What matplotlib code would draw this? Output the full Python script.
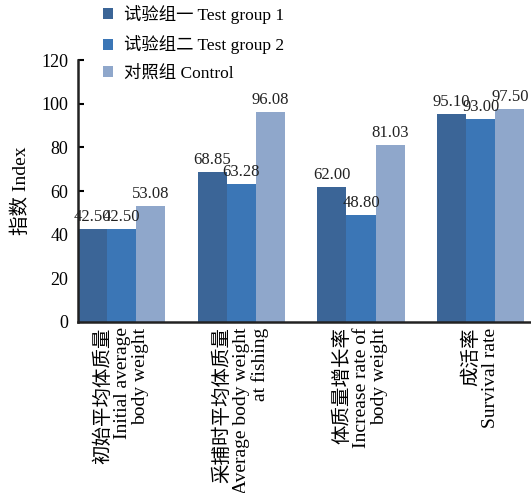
import matplotlib
matplotlib.use("Agg")
import matplotlib.pyplot as plt
import numpy as np

plt.rcParams['font.family'] = ['Liberation Serif', 'Noto Sans CJK SC']

# indices per group
categories = ["初始平均体质量\nInitial average\nbody weight",
              "采捕时平均体质量\nAverage body weight\nat fishing",
              "体质量增长率\nIncrease rate of\nbody weight",
              "成活率\nSurvival rate"]
series_names = ["试验组一 Test group 1", "试验组二 Test group 2", "对照组 Control"]
test1 = [42.50, 68.85, 62.00, 95.10]
test2 = [42.50, 63.28, 48.80, 93.00]
control = [53.08, 96.08, 81.03, 97.50]
yticks = [0, 20, 40, 60, 80, 100, 120]

colors = ["#3b6597", "#3b76b6", "#8fa7cb"]

fig = plt.figure(figsize=(5.31, 4.93), dpi=100)
ax = fig.add_axes([0.147, 0.347, 0.853, 0.531])

x = np.arange(len(categories))
w = 0.243
for i, (vals, name) in enumerate(zip([test1, test2, control], series_names)):
    bars = ax.bar(x + (i - 1) * w, vals, w, color=colors[i], label=name, zorder=2)
    for b, v in zip(bars, vals):
        ax.annotate("%.2f" % v, (b.get_x() + b.get_width() / 2, v),
                    xytext=(0, 3), textcoords="offset points",
                    ha="center", va="bottom", fontsize=12, color="#222222")

ax.set_xlim(-0.364, 3.42)
ax.set_ylim(0, 120)
ax.set_yticks(yticks)
ax.tick_params(axis="y", direction="in", length=4, width=1.5, labelsize=13, pad=7)
ax.tick_params(axis="x", length=0, pad=4)
ax.set_xticks(x)
ax.set_xticklabels(categories, rotation=90, fontsize=14, va="top", ha="center",
                   multialignment="right", linespacing=1.1)
for s in ["top", "right"]:
    ax.spines[s].set_visible(False)
ax.spines["left"].set_linewidth(1.8)
ax.spines["bottom"].set_linewidth(1.8)
ax.spines["left"].set_color("#222222")
ax.spines["bottom"].set_color("#222222")

ax.set_ylabel("指数 Index", fontsize=14, labelpad=8)

ax.legend(loc="upper left", bbox_to_anchor=(0.02, 1.27), frameon=False,
          fontsize=12.5, handlelength=0.6, handleheight=0.6, handletextpad=0.6,
          labelspacing=0.65)

fig.savefig("out.png", dpi=100, facecolor="white")
